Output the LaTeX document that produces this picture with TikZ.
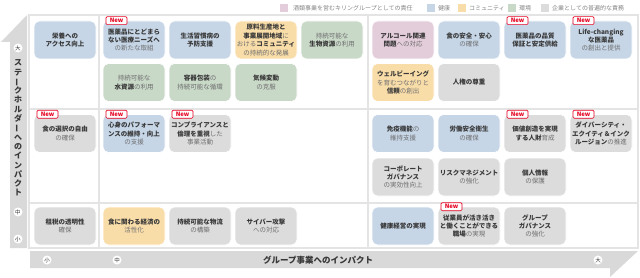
\documentclass[tikz,border=0pt]{standalone}
\usepackage{fontspec}
\setmainfont{Noto Sans CJK JP}
\usepackage{graphicx}
\definecolor{cblue}{HTML}{C6D6E7}
\definecolor{corange}{HTML}{F9DDA9}
\definecolor{cgreen}{HTML}{C9D9C8}
\definecolor{cpink}{HTML}{E4CDDA}
\definecolor{cgray}{HTML}{DCDCDC}
\definecolor{txt}{HTML}{383838}
\definecolor{lgt}{HTML}{6E6E6E}
\definecolor{newred}{HTML}{E60020}
\definecolor{gridc}{HTML}{E4E4E4}
\definecolor{bandc}{HTML}{D9D9D9}
\newcommand\Rg[1]{{\mdseries\color{lgt}#1}}
\newcommand\vbar{\rotatebox[origin=c]{90}{ー}}
\tikzset{
  box/.style={rounded corners=5.5pt, minimum width=62pt, minimum height=38pt, inner sep=0.5pt,
    align=center, font=\fontsize{6.5}{8.4}\selectfont\bfseries, text=txt, draw=white, line width=0.6pt},
  blu/.style={box, fill=cblue},
  org/.style={box, fill=corange},
  grn/.style={box, fill=cgreen},
  pnk/.style={box, fill=cpink},
  gry/.style={box, fill=cgray},
  newb/.style={draw=newred, fill=white, text=newred, font=\fontsize{6}{6}\selectfont\bfseries,
    rounded corners=1.2pt, inner xsep=1.5pt, inner ysep=0.5pt, line width=0.6pt,
    minimum height=8pt, minimum width=21pt},
  leg/.style={anchor=west, inner sep=0pt, font=\fontsize{6}{6}\selectfont, text=lgt!85!white},
  circ/.style={circle, fill=white, inner sep=0pt, minimum size=9pt, font=\fontsize{5.5}{5.5}\selectfont, text=txt},
  gridl/.style={draw=gridc, line width=1.2pt},
}
\begin{document}
\begin{tikzpicture}[x=1pt,y=-1pt]
\useasboundingbox (0,0) rectangle (640,278);
% legend
\fill[cpink] (280,4) rectangle (288,12);
\node[leg] (l1) at (293,8) {酒類事業を営むキリングループとしての責任};
\fill[cblue] (427,4) rectangle (435,12);
\node[leg] (l2) at (438,8) {健康};
\fill[corange] (458,4) rectangle (466,12);
\node[leg] (l3) at (469,8) {コミュニティ};
\fill[cgreen] (508,4) rectangle (516,12);
\node[leg] (l4) at (519,8) {環境};
\fill[cgray] (541,4) rectangle (549,12);
\node[leg] (l5) at (552,8) {企業としての普遍的な責務};
% grid
\fill[white] (29,15) rectangle (638,248);
\draw[gridl] (29,15) rectangle (638,248);
\draw[gridl] (99,15) -- (99,248);
\draw[gridl] (368,15) -- (368,248);
\draw[gridl] (29,109) -- (638,109);
\draw[gridl] (29,203) -- (638,203);
% axes bands
\fill[bandc] (27,15) -- (27,248) -- (10,248) -- (10,42) -- (1,42) -- cycle;
\fill[bandc] (638,251) -- (610,277) -- (610,268) -- (30,268) -- (30,251) -- cycle;
\node[circ] (ya) at (18,48) {大};
\node[circ] (ym) at (18,212) {中};
\node[circ] (ys) at (18,239) {小};
\node[circ] (xs) at (47,260) {小};
\node[circ] (xm) at (117,260) {中};
\node[circ] (xa) at (598,260) {大};
\node[font=\fontsize{8}{9.3}\selectfont\bfseries, align=center, text=txt, inner sep=0pt] (ylab) at (18,128)
  {ス\\テ\\\vbar\\ク\\ホ\\ル\\ダ\\\vbar\\へ\\の\\イ\\ン\\パ\\ク\\ト};
\node[font=\fontsize{8.5}{8.5}\selectfont\bfseries, text=txt] (xlab) at (318,260) {グループ事業へのインパクト};
% row 1
\node[blu] (b1) at (65,40) {栄養への\\アクセス向上};
\node[blu] (b2) at (134,40) {医薬品にとどまら\\ない医療ニーズへ\\\Rg{の新たな取組}};
\node[blu] (b3) at (200,40) {生活習慣病の\\予防支援};
\node[org] (b4) at (266,40) {原料生産地と\\事業展開地域\Rg{に}\\\Rg{おける}コミュニティ\\\Rg{の持続的な発展}};
\node[grn] (b5) at (332,40) {\Rg{持続可能な}\\生物資源\Rg{の利用}};
\node[grn] (b6) at (134,82.5) {\Rg{持続可能な}\\水資源\Rg{の利用}};
\node[grn] (b7) at (200,82.5) {容器包装\Rg{の}\\\Rg{持続可能な循環}};
\node[grn] (b8) at (266,82.5) {気候変動\\\Rg{の克服}};
\node[pnk] (b9) at (403,40) {アルコール関連\\問題\Rg{への対応}};
\node[blu] (b10) at (469,40) {食の安全・安心\\\Rg{の確保}};
\node[blu] (b11) at (535,40) {医薬品の品質\\保証と安定供給};
\node[blu] (b12) at (601,40) {Life-changing\\な医薬品\\\Rg{の創出と提供}};
\node[org] (b13) at (403,82.5) {ウェルビーイング\\\Rg{を育むつながりと}\\信頼\Rg{の創出}};
\node[gry] (b14) at (469,82.5) {人権の尊重};
% row 2
\node[gry] (b15) at (65,133.5) {食の選択の自由\\\Rg{の確保}};
\node[blu] (b16) at (134,133.5) {心身のパフォーマ\\ンスの維持・向上\\\Rg{の支援}};
\node[gry] (b17) at (200,133.5) {コンプライアンスと\\倫理を重視\Rg{した}\\\Rg{事業活動}};
\node[blu] (b18) at (403,133.5) {免疫機能\Rg{の}\\\Rg{維持支援}};
\node[blu] (b19) at (469,133.5) {労働安全衛生\\\Rg{の確保}};
\node[gry] (b20) at (535,133.5) {価値創造を実現\\する人財\Rg{育成}};
\node[gry] (b21) at (601,133.5) {ダイバーシティ・\\エクイティ＆インク\\ルージョン\Rg{の推進}};
\node[gry] (b22) at (403,177) {コーポレート\\ガバナンス\\\Rg{の実効性向上}};
\node[gry] (b23) at (469,177) {リスクマネジメント\\\Rg{の強化}};
\node[gry] (b24) at (535,177) {個人情報\\\Rg{の保護}};
% row 3
\node[gry] (b25) at (65,226) {租税の透明性\\\Rg{確保}};
\node[org] (b26) at (134,226) {食に関わる経済の\\\Rg{活性化}};
\node[gry] (b27) at (200,226) {持続可能な物流\\\Rg{の構築}};
\node[gry] (b28) at (266,226) {サイバー攻撃\\\Rg{への対応}};
\node[blu] (b29) at (403,226) {健康経営の実現};
\node[gry] (b30) at (469,226) {従業員が活き活き\\と働くことができる\\職場\Rg{の実現}};
\node[gry] (b31) at (535,226) {グループ\\ガバナンス\\\Rg{の強化}};
% New badges
\foreach \b in {b2,b11,b12,b15,b16,b17,b20,b21,b30}{
  \node[newb, anchor=west] (n\b) at ([xshift=3pt]\b.north west) {New};
}
\end{tikzpicture}
\end{document}
